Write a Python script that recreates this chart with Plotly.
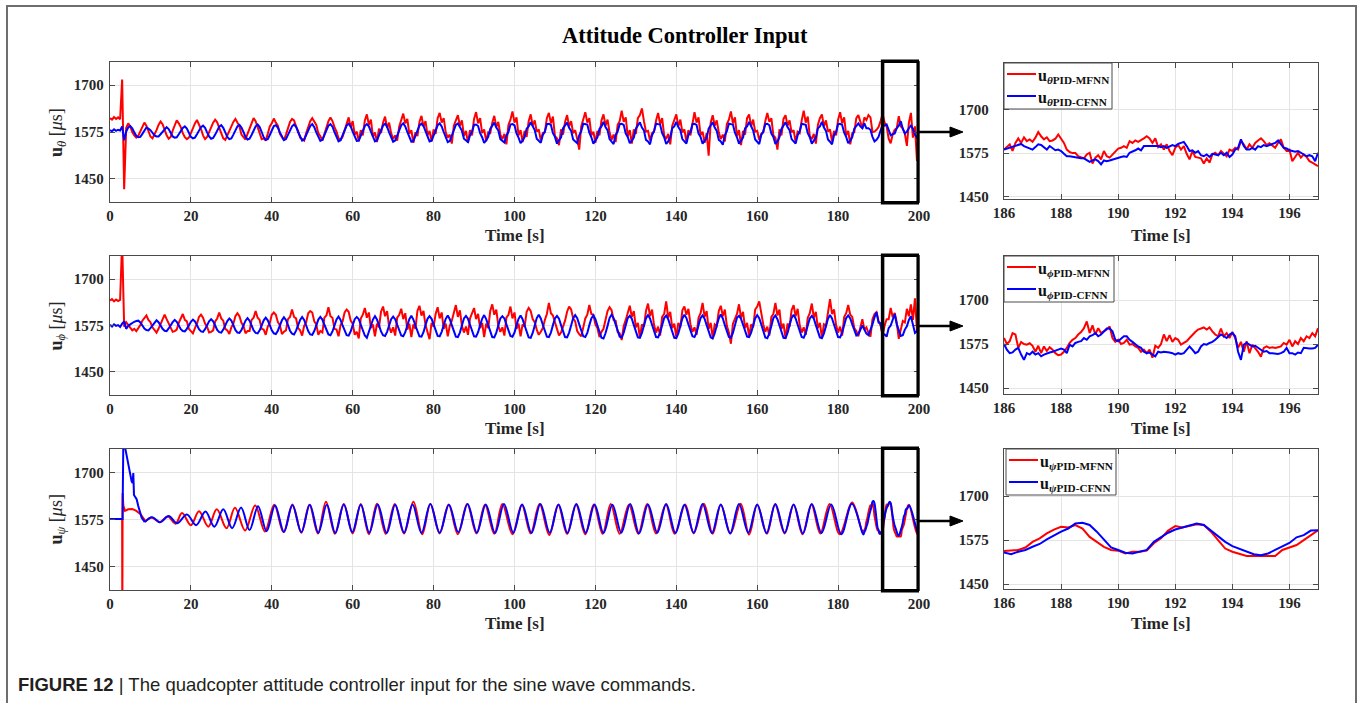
import numpy as np
import plotly.graph_objects as go

W, H = 1360, 703
RED, BLUE = '#ff0000', '#0000ff'

# ---------------- data: main panels (0.5 s grid, 0..200 s) ----------------
t_main = np.linspace(0, 200, 401)

theta_mfnn = [
    1612, 1608, 1615, 1610, 1614, 1609, 1715, 1422, 1586,
    1598, 1590, 1575, 1566, 1560, 1565, 1578, 1590,
    1600, 1592, 1578, 1563, 1558, 1568, 1580, 1594,
    1603, 1596, 1580, 1566, 1557, 1562, 1579, 1592,
    1606, 1598, 1588, 1572, 1561, 1556, 1560, 1572, 1586, 1598,
    1607, 1596, 1583, 1566, 1556, 1562, 1574, 1590, 1600,
    1608, 1601, 1586, 1570, 1558, 1554, 1566, 1578, 1594, 1602,
    1610, 1598, 1590, 1568, 1560, 1555, 1570, 1586, 1598,
    1612, 1604, 1586, 1574, 1556, 1558, 1552, 1570, 1590, 1598,
    1611, 1600, 1592, 1570, 1562, 1553, 1568, 1584, 1602,
    1610, 1606, 1590, 1578, 1560, 1556, 1552, 1572, 1588, 1604,
    1612, 1602, 1594, 1572, 1564, 1552, 1570, 1582, 1604,
    1614, 1604, 1588, 1576, 1558, 1554, 1562, 1580, 1598,
    1614, 1588, 1604, 1568, 1576, 1550, 1580, 1566, 1606,
    1622, 1594, 1608, 1562, 1574, 1548, 1584, 1572, 1600,
    1616, 1586, 1600, 1572, 1556, 1566, 1552, 1590, 1606,
    1624, 1598, 1610, 1570, 1580, 1546, 1574, 1564, 1602,
    1618, 1590, 1604, 1566, 1578, 1550, 1582, 1570, 1612,
    1626, 1600, 1612, 1574, 1560, 1568, 1544, 1592, 1604,
    1620, 1592, 1606, 1564, 1578, 1546, 1580, 1566, 1610,
    1628, 1598, 1612, 1572, 1582, 1550, 1574, 1572, 1600,
    1618, 1588, 1602, 1568, 1556, 1570, 1542, 1594, 1608,
    1630, 1600, 1614, 1566, 1580, 1548, 1578, 1562, 1604,
    1622, 1592, 1606, 1576, 1582, 1552, 1572, 1574, 1612,
    1626, 1598, 1616, 1564, 1558, 1540, 1582, 1568, 1602,
    1620, 1590, 1604, 1572, 1580, 1556, 1528, 1590, 1610,
    1628, 1600, 1612, 1566, 1576, 1546, 1578, 1566, 1606,
    1622, 1592, 1608, 1574, 1554, 1568, 1548, 1594, 1604,
    1632, 1602, 1614, 1564, 1580, 1544, 1582, 1570, 1612,
    1620, 1638, 1604, 1576, 1578, 1552, 1572, 1576, 1606,
    1626, 1596, 1612, 1566, 1556, 1570, 1542, 1592, 1610,
    1622, 1590, 1608, 1574, 1582, 1548, 1580, 1566, 1604,
    1628, 1600, 1614, 1566, 1576, 1546, 1572, 1512, 1600,
    1620, 1592, 1606, 1574, 1556, 1568, 1550, 1596, 1608,
    1630, 1598, 1614, 1564, 1580, 1540, 1578, 1568, 1612,
    1622, 1590, 1608, 1576, 1578, 1554, 1570, 1574, 1604,
    1626, 1602, 1612, 1566, 1560, 1528, 1582, 1566, 1610,
    1620, 1592, 1606, 1574, 1580, 1548, 1576, 1572, 1606,
    1632, 1600, 1616, 1564, 1556, 1570, 1544, 1594, 1612,
    1622, 1590, 1606, 1576, 1582, 1550, 1578, 1566, 1608,
    1628, 1598, 1614, 1566, 1578, 1542, 1572, 1574, 1612,
    1620, 1600,
    1585, 1614, 1607, 1620, 1614, 1575, 1576, 1581, 1588, 1604,
    1623, 1600, 1590, 1557, 1545, 1569, 1581, 1585, 1617, 1590,
    1585, 1571, 1538, 1600, 1626, 1560, 1590, 1498, 1560,
]

theta_cfnn = [
    1580, 1577, 1582, 1578, 1581, 1579, 1590, 1553, 1576, 1587,
    1591, 1585, 1574, 1565, 1561, 1562, 1570, 1580, 1587,
    1584, 1580, 1573, 1566, 1563, 1563, 1569, 1576, 1582,
    1588, 1583, 1573, 1563, 1560, 1561, 1569, 1579, 1586,
    1590, 1584, 1573, 1562, 1558, 1560, 1569, 1580, 1588,
    1592, 1586, 1574, 1563, 1557, 1559, 1568, 1580, 1589,
    1593, 1586, 1574, 1562, 1556, 1558, 1568, 1580, 1590,
    1594, 1587, 1575, 1562, 1555, 1557, 1567, 1580, 1590,
    1595, 1588, 1575, 1561, 1554, 1556, 1567, 1580, 1591,
    1593, 1587, 1574, 1561, 1553, 1556, 1566, 1579, 1590,
    1595, 1589, 1575, 1561, 1552, 1555, 1566, 1580, 1591,
    1596, 1588, 1574, 1560, 1551, 1554, 1566, 1580, 1592,
    1596, 1589, 1575, 1560, 1550, 1553, 1565, 1580, 1592,
    1597, 1590, 1576, 1561, 1551, 1552, 1564, 1579, 1591,
    1596, 1590, 1576, 1560, 1550, 1553, 1566, 1581, 1592,
    1597, 1589, 1574, 1559, 1549, 1552, 1565, 1580, 1593,
    1598, 1590, 1575, 1560, 1549, 1551, 1564, 1580, 1592,
    1597, 1591, 1577, 1561, 1550, 1552, 1565, 1580, 1593,
    1598, 1590, 1575, 1559, 1548, 1551, 1565, 1581, 1594,
    1598, 1588, 1578, 1557, 1551, 1548, 1566, 1576, 1594,
    1595, 1591, 1572, 1561, 1546, 1553, 1562, 1583, 1591,
    1600, 1587, 1579, 1556, 1552, 1547, 1566, 1575, 1595,
    1596, 1593, 1571, 1560, 1545, 1552, 1561, 1584, 1590,
    1601, 1588, 1580, 1557, 1551, 1546, 1567, 1576, 1596,
    1597, 1594, 1572, 1562, 1544, 1553, 1560, 1585, 1591,
    1600, 1586, 1578, 1555, 1550, 1545, 1566, 1577, 1597,
    1596, 1595, 1573, 1561, 1544, 1551, 1561, 1583, 1590,
    1602, 1588, 1580, 1556, 1549, 1543, 1567, 1576, 1596,
    1597, 1594, 1571, 1562, 1545, 1552, 1560, 1584, 1592,
    1601, 1587, 1579, 1554, 1550, 1542, 1566, 1577, 1597,
    1596, 1595, 1572, 1561, 1543, 1550, 1561, 1585, 1590,
    1602, 1588, 1580, 1556, 1549, 1544, 1567, 1575, 1596,
    1597, 1594, 1571, 1562, 1544, 1551, 1559, 1584, 1591,
    1601, 1587, 1578, 1554, 1550, 1541, 1566, 1577, 1597,
    1596, 1595, 1573, 1561, 1544, 1552, 1560, 1585, 1590,
    1602, 1588, 1579, 1555, 1549, 1543, 1567, 1576, 1596,
    1597, 1593, 1571, 1562, 1543, 1550, 1561, 1583, 1591,
    1601, 1588, 1580, 1556, 1550, 1544, 1566, 1577, 1597,
    1596, 1594, 1572, 1561, 1544, 1551, 1560, 1585, 1590,
    1602, 1587, 1578, 1555, 1549, 1542, 1567, 1575, 1596,
    1597, 1594, 1573, 1562, 1545, 1552, 1561, 1584, 1592,
    1598, 1590,
    1585, 1598, 1585, 1585, 1581, 1562, 1550, 1554, 1562, 1579,
    1595, 1592, 1595, 1581, 1566, 1569, 1571, 1585, 1592, 1604,
    1583, 1571, 1576, 1585, 1592, 1584, 1568, 1560, 1570,
]

phi_mfnn = [
    1642, 1646, 1640, 1645, 1641, 1644, 1800,
    1572, 1584, 1576, 1570, 1562, 1566, 1560, 1568, 1576, 1588, 1596,
    1602, 1590, 1584, 1570, 1562, 1556, 1566, 1578, 1594,
    1604, 1592, 1582, 1568, 1558, 1560, 1564, 1582, 1596,
    1606, 1590, 1586, 1566, 1560, 1554, 1568, 1580, 1598,
    1604, 1596, 1580, 1572, 1556, 1558, 1562, 1586, 1594,
    1610, 1594, 1588, 1566, 1562, 1552, 1570, 1580, 1600,
    1608, 1600, 1582, 1574, 1554, 1560, 1560, 1590, 1596,
    1614, 1596, 1590, 1566, 1564, 1550, 1572, 1582, 1604,
    1610, 1604, 1584, 1576, 1552, 1558, 1562, 1592, 1598,
    1618, 1598, 1594, 1568, 1562, 1548, 1574, 1584, 1608,
    1614, 1610, 1586, 1578, 1550, 1560, 1556, 1596, 1602,
    1624, 1600, 1596, 1566, 1564, 1546, 1576, 1586, 1610,
    1618, 1612, 1588, 1580, 1550, 1558, 1540, 1594, 1604,
    1622, 1596, 1610, 1568, 1578, 1546, 1580, 1570, 1612,
    1626, 1600, 1614, 1572, 1556, 1570, 1548, 1596, 1604,
    1620, 1592, 1608, 1564, 1580, 1544, 1578, 1566, 1614,
    1628, 1602, 1614, 1576, 1560, 1538, 1582, 1572, 1606,
    1624, 1594, 1610, 1566, 1580, 1546, 1574, 1588, 1612,
    1630, 1598, 1616, 1574, 1556, 1572, 1550, 1594, 1606,
    1622, 1592, 1606, 1568, 1582, 1544, 1580, 1568, 1614,
    1632, 1604, 1618, 1574, 1558, 1570, 1548, 1596, 1604,
    1626, 1594, 1610, 1566, 1580, 1546, 1578, 1572, 1612,
    1622, 1614, 1592, 1584, 1564, 1550, 1558, 1568, 1590, 1606,
    1636, 1608, 1602, 1580, 1566, 1548, 1556, 1572, 1588, 1612,
    1626, 1618, 1594, 1586, 1560, 1552, 1546, 1570, 1594, 1604,
    1630, 1606, 1604, 1578, 1568, 1544, 1558, 1566, 1592, 1614,
    1624, 1616, 1590, 1588, 1558, 1554, 1536, 1574, 1590, 1606,
    1628, 1598, 1614, 1570, 1582, 1542, 1578, 1572, 1614,
    1634, 1600, 1618, 1576, 1556, 1572, 1548, 1598, 1606,
    1640, 1596, 1612, 1568, 1580, 1544, 1582, 1570, 1616,
    1626, 1604, 1620, 1578, 1558, 1570, 1550, 1596, 1608,
    1636, 1598, 1614, 1566, 1582, 1542, 1578, 1574, 1614,
    1628, 1600, 1618, 1574, 1556, 1526, 1580, 1596, 1606,
    1632, 1596, 1612, 1568, 1582, 1546, 1578, 1570, 1618,
    1626, 1640, 1606, 1578, 1558, 1572, 1548, 1598, 1606,
    1636, 1602, 1618, 1566, 1580, 1540, 1580, 1572, 1616,
    1630, 1600, 1620, 1576, 1556, 1570, 1550, 1596, 1608,
    1634, 1596, 1612, 1568, 1582, 1542, 1578, 1574, 1616,
    1646, 1606, 1618, 1576, 1556, 1572, 1548, 1598, 1608,
    1630, 1604, 1598, 1568, 1560, 1546, 1570,
    1592, 1564, 1570, 1555, 1545, 1592, 1606, 1611, 1587, 1575,
    1549, 1575, 1592, 1592, 1622, 1597, 1609, 1583, 1539, 1564,
    1587, 1583, 1620, 1600, 1632, 1590, 1648, 1560, 1550,
]

phi_cfnn = [
    1577, 1572, 1578, 1574, 1576, 1571, 1580, 1586, 1566, 1574, 1578, 1582, 1585, 1587,
    1588, 1583, 1575, 1567, 1563, 1562, 1568, 1576, 1583,
    1589, 1584, 1575, 1566, 1561, 1560, 1567, 1576, 1584,
    1590, 1585, 1575, 1565, 1560, 1559, 1566, 1576, 1585,
    1591, 1586, 1576, 1565, 1559, 1558, 1565, 1576, 1586,
    1592, 1586, 1575, 1563, 1557, 1556, 1564, 1576, 1587,
    1594, 1588, 1576, 1563, 1556, 1555, 1563, 1576, 1588,
    1595, 1588, 1575, 1562, 1555, 1554, 1562, 1576, 1589,
    1596, 1589, 1576, 1562, 1554, 1552, 1561, 1575, 1589,
    1597, 1590, 1576, 1561, 1553, 1551, 1561, 1576, 1590,
    1598, 1590, 1575, 1560, 1551, 1550, 1560, 1576, 1591,
    1598, 1591, 1577, 1561, 1551, 1549, 1559, 1575, 1591,
    1599, 1590, 1575, 1559, 1549, 1548, 1559, 1576, 1592,
    1598, 1592, 1577, 1560, 1548, 1542, 1558, 1575, 1591,
    1600, 1591, 1576, 1559, 1549, 1547, 1558, 1576, 1592,
    1599, 1592, 1577, 1560, 1548, 1546, 1557, 1575, 1592,
    1601, 1591, 1575, 1558, 1546, 1545, 1557, 1576, 1593,
    1600, 1593, 1578, 1560, 1547, 1546, 1558, 1576, 1593,
    1602, 1592, 1576, 1558, 1545, 1544, 1556, 1575, 1594,
    1601, 1593, 1577, 1559, 1546, 1545, 1557, 1576, 1593,
    1603, 1592, 1576, 1557, 1544, 1543, 1556, 1575, 1594,
    1600, 1594, 1578, 1560, 1547, 1545, 1556, 1576, 1593,
    1602, 1592, 1575, 1557, 1543, 1542, 1555, 1575, 1595,
    1604, 1594, 1577, 1559, 1545, 1544, 1556, 1576, 1594,
    1601, 1593, 1576, 1558, 1544, 1543, 1556, 1575, 1595,
    1603, 1595, 1578, 1560, 1546, 1544, 1555, 1576, 1594,
    1602, 1592, 1575, 1556, 1542, 1540, 1554, 1574, 1595,
    1604, 1595, 1578, 1559, 1545, 1543, 1556, 1576, 1595,
    1601, 1593, 1576, 1557, 1543, 1542, 1555, 1575, 1594,
    1603, 1594, 1577, 1558, 1544, 1543, 1556, 1576, 1595,
    1602, 1592, 1575, 1556, 1542, 1541, 1554, 1574, 1594,
    1604, 1595, 1578, 1559, 1546, 1544, 1556, 1576, 1595,
    1602, 1593, 1576, 1557, 1543, 1540, 1554, 1575, 1594,
    1605, 1594, 1576, 1558, 1544, 1542, 1555, 1576, 1596,
    1601, 1593, 1577, 1559, 1545, 1544, 1556, 1575, 1594,
    1603, 1595, 1578, 1558, 1543, 1541, 1554, 1574, 1595,
    1602, 1592, 1575, 1556, 1542, 1541, 1555, 1576, 1595,
    1604, 1594, 1577, 1558, 1544, 1542, 1555, 1575, 1594,
    1601, 1593, 1576, 1557, 1543, 1541, 1554, 1574, 1593,
    1603, 1594, 1577, 1558, 1544, 1543, 1556, 1576, 1595,
    1602, 1594, 1578, 1560, 1548, 1552, 1565,
    1575, 1564, 1553, 1549, 1562, 1578, 1597, 1611, 1583, 1581,
    1549, 1551, 1545, 1568, 1575, 1594, 1606, 1578, 1559, 1547,
    1549, 1564, 1573, 1590, 1600, 1575, 1555, 1560, 1575,
]

# psi: start-up transient (time, value) and then peaks / troughs (time, value)
psi_mfnn_start = [(0, 1576), (3.0, 1576), (3.05, 1300), (3.12, 1645), (3.3, 1612),
                  (3.7, 1598), (4.5, 1602), (5.5, 1603), (6.5, 1598), (7.5, 1590), (8.8, 1570)]
psi_cfnn_start = [(0, 1576), (3.1, 1576), (3.3, 1790), (3.95, 1755), (4.36, 1728),
                  (4.94, 1705), (5.35, 1676), (5.6, 1672), (5.76, 1698), (5.93, 1640),
                  (6.58, 1629), (6.99, 1611), (7.81, 1580), (8.6, 1568)]

psi_mfnn_ext = [
    (8.8, 1570), (10.3, 1580), (12.3, 1568), (14.3, 1583), (16.2, 1564), (17.8, 1592),
    (20.0, 1560), (22.0, 1597), (24.3, 1556), (26.4, 1602), (28.8, 1552), (30.9, 1606),
    (33.4, 1546), (35.9, 1612), (38.3, 1543), (40.6, 1614), (42.9, 1541), (45.1, 1615),
    (47.3, 1540), (49.3, 1614), (51.4, 1538), (53.4, 1622), (55.6, 1537), (57.8, 1616),
    (60.0, 1538), (62.0, 1616), (64.0, 1536), (66.0, 1617), (68.2, 1537), (70.4, 1616),
    (72.7, 1538), (75.0, 1622), (77.2, 1536), (79.2, 1616), (81.5, 1538), (83.7, 1615),
    (86.0, 1536), (88.3, 1616), (90.6, 1538), (92.7, 1614), (95.0, 1537), (97.0, 1616),
    (99.5, 1536), (101.8, 1614), (104.0, 1538), (106.2, 1616), (108.6, 1534), (110.8, 1614),
    (113.0, 1537), (115.2, 1615), (117.5, 1536), (119.6, 1615), (121.8, 1537), (123.8, 1616),
    (126.0, 1537), (128.3, 1614), (130.6, 1537), (132.8, 1616), (135.0, 1538), (137.4, 1615),
    (139.6, 1537), (142.2, 1615), (144.3, 1538), (146.8, 1617), (149.0, 1537), (151.0, 1614),
    (153.4, 1538), (155.9, 1617), (158.0, 1535), (160.0, 1614), (162.4, 1537), (164.4, 1615),
    (166.8, 1538), (169.0, 1614), (171.2, 1536), (173.4, 1615), (175.6, 1538), (177.9, 1616),
    (180.4, 1536), (183.5, 1620),
]
psi_cfnn_ext = [
    (8.6, 1568), (10.4, 1581), (12.4, 1568), (14.5, 1584), (16.6, 1565), (19.0, 1588),
    (21.3, 1560), (23.6, 1596), (25.8, 1556), (28.0, 1602), (30.2, 1552), (32.4, 1607),
    (34.5, 1547), (36.6, 1610), (38.7, 1544), (40.8, 1612), (43.0, 1542), (45.1, 1613),
    (47.3, 1541), (49.4, 1614), (51.5, 1540), (53.6, 1614), (55.7, 1539), (57.8, 1615),
    (59.9, 1541), (62.0, 1614), (64.1, 1540), (66.2, 1615), (68.4, 1539), (70.5, 1614),
    (72.7, 1540), (74.8, 1615), (77.0, 1539), (79.2, 1616), (81.5, 1540), (83.8, 1614),
    (86.1, 1541), (88.4, 1616), (90.7, 1540), (92.9, 1615), (95.2, 1539), (97.4, 1616),
    (99.7, 1540), (101.9, 1615), (104.2, 1539), (106.4, 1616), (108.7, 1540), (110.9, 1615),
    (113.1, 1539), (115.3, 1616), (117.6, 1540), (119.8, 1615), (122.0, 1539), (124.2, 1614),
    (126.4, 1540), (128.6, 1616), (130.8, 1538), (133.0, 1615), (135.3, 1540), (137.5, 1616),
    (139.8, 1539), (142.0, 1614), (144.3, 1540), (146.5, 1616), (148.8, 1539), (151.0, 1615),
    (153.3, 1538), (155.5, 1616), (157.8, 1540), (160.0, 1615), (162.3, 1539), (164.5, 1616),
    (166.8, 1540), (169.0, 1615), (171.3, 1538), (173.5, 1616), (175.9, 1539), (178.3, 1615),
    (180.8, 1536), (183.4, 1617),
]
psi_mfnn_end = [(197.5, 1614), (199.6, 1536), (200.0, 1540)]
psi_cfnn_end = [(197.6, 1612), (199.8, 1538), (200.0, 1540)]

# ---------------- data: zoomed panels (186..197 s) ----------------
t_zoom = np.linspace(186, 197, 111)      # 0.1 s
t_zoom_psi = np.linspace(186, 197, 45)   # 0.25 s

theta_mfnn_zoom = [
    1585, 1594, 1600, 1581, 1604, 1617, 1604, 1620, 1609, 1614,
    1607, 1619, 1635, 1623, 1614, 1620, 1609, 1611, 1616, 1628,
    1614, 1604, 1585, 1578, 1575, 1575, 1566, 1564, 1560, 1571,
    1576, 1545, 1562, 1569, 1557, 1581, 1566, 1562, 1571, 1581,
    1588, 1590, 1595, 1590, 1609, 1604, 1611, 1607, 1611, 1617,
    1623, 1617, 1604, 1617, 1592, 1600, 1585, 1600, 1581, 1569,
    1590, 1598, 1585, 1595, 1573, 1557, 1581, 1564, 1562, 1560,
    1545, 1560, 1548, 1571, 1576, 1569, 1581, 1573, 1566, 1585,
    1581, 1590, 1585, 1609, 1600, 1585, 1600, 1590, 1604, 1611,
    1617, 1609, 1598, 1603, 1595, 1590, 1604, 1614, 1590, 1581,
    1585, 1552, 1564, 1576, 1562, 1571, 1564, 1552, 1548, 1543,
    1538,
]
theta_cfnn_zoom = [
    1585, 1588, 1590, 1592, 1595, 1598, 1601, 1595, 1592, 1588,
    1585, 1592, 1600, 1598, 1590, 1585, 1595, 1588, 1583, 1585,
    1581, 1573, 1566, 1566, 1564, 1562, 1562, 1560, 1560, 1554,
    1550, 1554, 1557, 1552, 1543, 1554, 1552, 1554, 1557, 1560,
    1562, 1564, 1566, 1564, 1576, 1579, 1583, 1588, 1583, 1595,
    1595, 1595, 1595, 1594, 1595, 1592, 1595, 1590, 1595, 1598,
    1595, 1601, 1604, 1607, 1595, 1581, 1583, 1576, 1581, 1569,
    1566, 1571, 1564, 1573, 1571, 1569, 1576, 1569, 1576, 1564,
    1571, 1585, 1590, 1614, 1595, 1585, 1585, 1590, 1585, 1595,
    1592, 1598, 1595, 1598, 1600, 1604, 1611, 1601, 1590, 1588,
    1583, 1581, 1579, 1581, 1576, 1571, 1566, 1569, 1566, 1552,
    1576,
]
phi_mfnn_zoom = [
    1592, 1575, 1583, 1606, 1602, 1564, 1581, 1575, 1573, 1577,
    1570, 1553, 1570, 1549, 1568, 1555, 1566, 1559, 1549, 1543,
    1545, 1553, 1564, 1578, 1587, 1592, 1602, 1609, 1620, 1639,
    1606, 1628, 1602, 1620, 1606, 1611, 1616, 1625, 1592, 1581,
    1587, 1575, 1578, 1587, 1573, 1575, 1568, 1564, 1553, 1559,
    1549, 1559, 1536, 1570, 1564, 1575, 1602, 1583, 1600, 1581,
    1592, 1587, 1573, 1578, 1583, 1592, 1602, 1609, 1616, 1620,
    1622, 1616, 1622, 1611, 1602, 1597, 1619, 1597, 1606, 1592,
    1609, 1592, 1564, 1581, 1553, 1583, 1549, 1573, 1564, 1553,
    1539, 1564, 1568, 1564, 1566, 1564, 1566, 1568, 1578, 1573,
    1587, 1568, 1583, 1575, 1592, 1583, 1597, 1592, 1606, 1597,
    1620,
]
phi_cfnn_zoom = [
    1575, 1559, 1549, 1551, 1559, 1564, 1545, 1530, 1549, 1545,
    1553, 1545, 1549, 1540, 1545, 1549, 1551, 1553, 1555, 1559,
    1562, 1559, 1549, 1573, 1568, 1578, 1581, 1583, 1592, 1587,
    1597, 1600, 1606, 1597, 1602, 1611, 1619, 1619, 1611, 1587,
    1583, 1590, 1597, 1597, 1587, 1581, 1573, 1568, 1564, 1553,
    1549, 1551, 1545, 1540, 1553, 1551, 1553, 1553, 1551, 1549,
    1545, 1549, 1547, 1549, 1559, 1568, 1559, 1549, 1553, 1568,
    1575, 1573, 1578, 1581, 1587, 1594, 1602, 1597, 1592, 1602,
    1606, 1597, 1553, 1530, 1573, 1578, 1573, 1568, 1570, 1564,
    1559, 1553, 1555, 1549, 1549, 1547, 1547, 1549, 1553, 1564,
    1549, 1549, 1545, 1551, 1549, 1564, 1562, 1562, 1562, 1564,
    1573,
]
psi_mfnn_zoom = [
    1544, 1545, 1547, 1554, 1570, 1580, 1594, 1605, 1613, 1611, 1618, 1608, 1584, 1570, 1556,
    1547, 1545, 1537, 1542, 1542, 1545, 1566, 1580, 1602, 1615, 1611, 1615, 1620, 1618, 1599,
    1575, 1551, 1542, 1537, 1530, 1530, 1530, 1530, 1530, 1547, 1554, 1561, 1575, 1589, 1603,
]
psi_cfnn_zoom = [
    1540, 1535, 1542, 1547, 1556, 1564, 1577, 1589, 1599, 1608, 1622, 1624, 1618, 1599, 1575,
    1554, 1547, 1539, 1537, 1542, 1547, 1570, 1583, 1596, 1605, 1611, 1618, 1622, 1618, 1602,
    1584, 1570, 1558, 1551, 1542, 1535, 1532, 1537, 1547, 1556, 1567, 1583, 1589, 1602, 1603,
]

main_xticks = [0, 20, 40, 60, 80, 100, 120, 140, 160, 180, 200]
zoom_xticks = [186, 188, 190, 192, 194, 196]
yticks = [1450, 1575, 1700]
legend_names = [
    ('<b>u</b><sub><b><i>θ</i>PID-MFNN</b></sub>', '<b>u</b><sub><b><i>θ</i>PID-CFNN</b></sub>'),
    ('<b>u</b><sub><b><i>ϕ</i>PID-MFNN</b></sub>', '<b>u</b><sub><b><i>ϕ</i>PID-CFNN</b></sub>'),
    ('<b>u</b><sub><b><i>ψ</i>PID-MFNN</b></sub>', '<b>u</b><sub><b><i>ψ</i>PID-CFNN</b></sub>'),
]
ylabels = ['<b>u</b><sub><i>θ</i></sub> [<i>μ</i>s]',
           '<b>u</b><sub><i>ϕ</i></sub> [<i>μ</i>s]',
           '<b>u</b><sub><i>ψ</i></sub> [<i>μ</i>s]']

# ---------------- figure ----------------
fig = go.Figure()


def add(x, y, color, xa, ya, width=2.0, shape='linear', name=''):
    fig.add_trace(go.Scatter(
        x=list(x), y=list(y), mode='lines', xaxis=xa, yaxis=ya,
        line=dict(color=color, width=width, shape=shape),
        name=name, showlegend=False, hoverinfo='skip'))


def unzip(pairs):
    return [p[0] for p in pairs], [p[1] for p in pairs]


# main panels
add(t_main, theta_mfnn, RED, 'x', 'y', name='u θ PID-MFNN')
add(t_main, theta_cfnn, BLUE, 'x', 'y', name='u θ PID-CFNN')
add(t_main, phi_mfnn, RED, 'x2', 'y2', name='u ϕ PID-MFNN')
add(t_main, phi_cfnn, BLUE, 'x2', 'y2', name='u ϕ PID-CFNN')

for start, ext, zoom, end, col, nm in [
        (psi_mfnn_start, psi_mfnn_ext, psi_mfnn_zoom, psi_mfnn_end, RED, 'u ψ PID-MFNN'),
        (psi_cfnn_start, psi_cfnn_ext, psi_cfnn_zoom, psi_cfnn_end, BLUE, 'u ψ PID-CFNN')]:
    sx, sy = unzip(start)
    add(sx, sy, col, 'x3', 'y3', name=nm)
    ex, ey = unzip(ext)
    nx, ny = unzip(end)
    add(ex + list(t_zoom_psi) + nx, ey + list(zoom) + ny, col, 'x3', 'y3', shape='spline', name=nm)

# zoom panels
add(t_zoom, theta_mfnn_zoom, RED, 'x4', 'y4', name='u θ PID-MFNN')
add(t_zoom, theta_cfnn_zoom, BLUE, 'x4', 'y4', name='u θ PID-CFNN')
add(t_zoom, phi_mfnn_zoom, RED, 'x5', 'y5', name='u ϕ PID-MFNN')
add(t_zoom, phi_cfnn_zoom, BLUE, 'x5', 'y5', name='u ϕ PID-CFNN')
add(t_zoom_psi, psi_mfnn_zoom, RED, 'x6', 'y6', name='u ψ PID-MFNN')
add(t_zoom_psi, psi_cfnn_zoom, BLUE, 'x6', 'y6', name='u ψ PID-CFNN')

# ---------------- layout ----------------
AX = '#4a4a4a'
SERIF = 'Liberation Serif'


def xd(a, b):
    return [a / W, b / W]


def yd(top, bottom):
    return [1 - bottom / H, 1 - top / H]


def px(x):
    return x / W


def py(y):
    return 1 - y / H


def axis_common():
    return dict(showline=True, linecolor=AX, linewidth=1.3, mirror='ticks',
                ticks='inside', ticklen=5, tickwidth=1, tickcolor=AX,
                showgrid=True, gridcolor='#e4e4e4', gridwidth=1, zeroline=False,
                automargin=False,
                tickfont=dict(family=SERIF, size=15, color='#262626', weight='bold'))


main_rows = [(62, 202), (256, 395), (449, 590)]
zoom_rows = [(63, 199), (256, 394), (449, 589)]
zoom_yr = [[1444, 1832], [1433, 1825], [1436, 1834]]
layout = dict(template='none', width=W, height=H, showlegend=False,
              margin=dict(l=0, r=0, t=0, b=0, pad=0, autoexpand=False),
              paper_bgcolor='white', plot_bgcolor='white')

for k in range(3):
    i = k + 1
    xs = '' if i == 1 else str(i)
    ax = axis_common()
    ax.update(domain=xd(110, 919), range=[0, 200], tickvals=main_xticks,
              anchor='y' + xs)
    layout['xaxis' + xs] = ax
    ay = axis_common()
    ay.update(domain=yd(*main_rows[k]), range=[1388, 1762], tickvals=yticks,
              anchor='x' + xs, ticklabelstandoff=2)
    layout['yaxis' + xs] = ay

    j = k + 4
    ax = axis_common()
    ax.update(domain=xd(1004, 1318), range=[186, 197], tickvals=zoom_xticks,
              anchor='y' + str(j))
    layout['xaxis' + str(j)] = ax
    ay = axis_common()
    ay.update(domain=yd(*zoom_rows[k]), range=zoom_yr[k], tickvals=yticks,
              anchor='x' + str(j), ticklabelstandoff=11)
    layout['yaxis' + str(j)] = ay

shapes = []
annotations = []
arrow_y = [132, 326, 521]
for k in range(3):
    xs = '' if k == 0 else str(k + 1)
    # box marking the zoomed window
    shapes.append(dict(type='rect', xref='x' + xs, yref='y' + xs + ' domain',
                       x0=191.0, x1=199.8, y0=-0.006, y1=1.006,
                       line=dict(color='black', width=3.5)))
    # arrow to the zoomed panel
    ay_ = arrow_y[k]
    shapes.append(dict(type='line', xref='paper', yref='paper',
                       x0=px(919), x1=px(952), y0=py(ay_), y1=py(ay_),
                       line=dict(color='black', width=2.5)))
    shapes.append(dict(type='path', xref='paper', yref='paper',
                       path=f'M{px(963)},{py(ay_)} L{px(950)},{py(ay_ - 5)} L{px(950)},{py(ay_ + 5)} Z',
                       fillcolor='black', line=dict(color='black', width=1)))
    top, bottom = main_rows[k]
    annotations.append(dict(x=57 / W, y=1 - (top + bottom) / 2 / H, xref='paper', yref='paper',
                            text=ylabels[k], textangle=-90, showarrow=False,
                            xanchor='center', yanchor='middle',
                            font=dict(family=SERIF, size=18, color='#262626')))
    for cx in (514.5, 1161):
        annotations.append(dict(x=cx / W, y=1 - (bottom + 33) / H, xref='paper', yref='paper',
                                text='<b>Time [s]</b>', showarrow=False,
                                xanchor='center', yanchor='middle',
                                font=dict(family=SERIF, size=17, color='#262626')))

# legend boxes of the zoomed panels
legend_boxes = [(63, 1004, 1112), (256, 1004, 1114), (449, 1006, 1116)]
for k, (top, lx0, lx1) in enumerate(legend_boxes):
    shapes.append(dict(type='rect', xref='paper', yref='paper', layer='above',
                       x0=lx0 / W, x1=lx1 / W, y0=1 - (top + 46) / H, y1=1 - top / H,
                       fillcolor='white', line=dict(color=AX, width=1)))
    for j, (col, dy) in enumerate([(RED, 11), (BLUE, 33)]):
        yy = top + dy
        shapes.append(dict(type='line', xref='paper', yref='paper', layer='above',
                           x0=(lx0 + 3) / W, x1=(lx0 + 32) / W, y0=1 - yy / H, y1=1 - yy / H,
                           line=dict(color=col, width=2)))
        annotations.append(dict(x=(lx0 + 32) / W, y=1 - (yy + 2) / H, xref='paper', yref='paper',
                                text=legend_names[k][j], showarrow=False,
                                xanchor='left', yanchor='middle',
                                font=dict(family=SERIF, size=16, color='#111111')))

annotations.append(dict(x=685 / W, y=1 - 35 / H, xref='paper', yref='paper',
                        text='<b>Attitude Controller Input</b>', showarrow=False,
                        xanchor='center', yanchor='middle',
                        font=dict(family=SERIF, size=22.5, color='black')))
annotations.append(dict(x=16 / W, y=1 - 684 / H, xref='paper', yref='paper',
                        text='<b>FIGURE 12</b> | The quadcopter attitude controller input for the sine wave commands.',
                        showarrow=False, xanchor='left', yanchor='middle',
                        font=dict(family='Liberation Sans', size=18.5, color='#231f20')))

shapes.append(dict(type='rect', xref='paper', yref='paper', x0=7 / W, x1=1356 / W,
                   y0=-0.05, y1=1 - 6 / H, line=dict(color='#6e6e6e', width=2)))

layout['shapes'] = shapes
layout['annotations'] = annotations
fig.update_layout(**layout)
fig.write_html('out.html')
